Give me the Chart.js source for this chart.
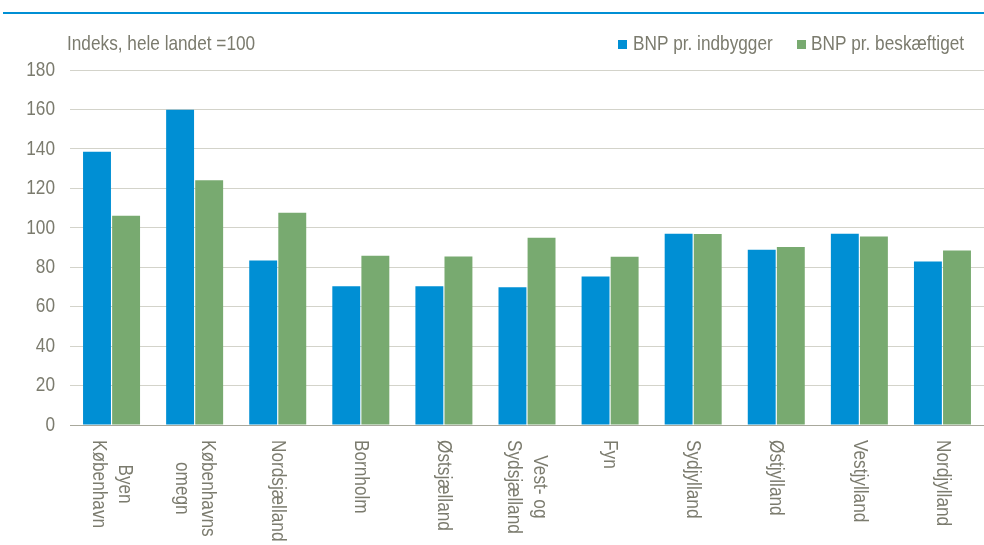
<!DOCTYPE html>
<html>
<head>
<meta charset="utf-8">
<script src="https://cdn.jsdelivr.net/npm/chart.js@4"></script>
<style>
  body { margin: 0; background: #fff; }
  canvas { display: block; }
</style>
</head>
<body>
<canvas id="bnpChart" width="984" height="545"></canvas>
<script>
const categories = [
  ["Byen", "København"],
  ["Københavns", "omegn"],
  "Nordsjælland",
  "Bornholm",
  "Østsjælland",
  ["Vest- og", "Sydsjælland"],
  "Fyn",
  "Sydjylland",
  "Østjylland",
  "Vestjylland",
  "Nordjylland"
];
const bnpPerIndbygger = [138.5, 159.8, 83.4, 70.3, 70.3, 69.8, 75.3, 97.0, 88.9, 97.0, 82.9];
const bnpPerBeskaeftiget = [106.1, 124.1, 107.6, 85.8, 85.5, 94.9, 85.3, 96.8, 90.2, 95.6, 88.5];
const seriesNames = ["BNP pr. indbygger", "BNP pr. beskæftiget"];
const yTicks = [0, 20, 40, 60, 80, 100, 120, 140, 160, 180];
const axisTitle = "Indeks, hele landet =100";

// no narrow font installed, so Liberation Sans is squeezed horizontally
const FONT = "21px 'Liberation Sans', Arial, sans-serif";
const SQUEEZE = 0.82;
const TEXT = "#7b7b6e";
const BLUE = "#008fd4";
const GREEN = "#78aa70";

function narrowText(ctx, text, x, y, align) {
  ctx.save();
  ctx.translate(x, y);
  ctx.scale(SQUEEZE, 1);
  ctx.textAlign = align;
  ctx.fillText(text, 0, 0);
  ctx.restore();
}

// title, legend, top rule, y labels and clockwise x labels
const decorations = {
  id: "decorations",
  afterDraw(chart) {
    const ctx = chart.ctx;
    ctx.save();
    ctx.fillStyle = BLUE;
    ctx.fillRect(3, 12, 981, 2);

    ctx.font = FONT;
    ctx.textBaseline = "middle";
    ctx.fillStyle = TEXT;
    narrowText(ctx, axisTitle, 67, 44, "left");

    ctx.fillStyle = BLUE;
    ctx.fillRect(618, 40, 9, 9);
    ctx.fillStyle = TEXT;
    narrowText(ctx, seriesNames[0], 633, 44, "left");
    ctx.fillStyle = GREEN;
    ctx.fillRect(797, 40, 9, 9);
    ctx.fillStyle = TEXT;
    narrowText(ctx, seriesNames[1], 811, 44, "left");

    const yScale = chart.scales.y;
    yTicks.forEach(v => {
      narrowText(ctx, String(v), chart.chartArea.left - 15, yScale.getPixelForValue(v), "right");
    });

    const xScale = chart.scales.x;
    const top = chart.chartArea.bottom + 15;
    const lh = 26;
    categories.forEach((cat, i) => {
      const lines = Array.isArray(cat) ? cat : [cat];
      const maxW = Math.max(...lines.map(l => ctx.measureText(l).width));
      ctx.save();
      ctx.translate(xScale.getPixelForTick(i), top);
      ctx.rotate(Math.PI / 2);
      ctx.scale(SQUEEZE, 1);
      ctx.textAlign = "center";
      lines.forEach((l, j) => {
        ctx.fillText(l, maxW / 2, (j - (lines.length - 1) / 2) * lh);
      });
      ctx.restore();
    });
    ctx.restore();
  }
};

new Chart(document.getElementById("bnpChart"), {
  type: "bar",
  data: {
    labels: categories,
    datasets: [
      { label: seriesNames[0], data: bnpPerIndbygger, backgroundColor: BLUE },
      { label: seriesNames[1], data: bnpPerBeskaeftiget, backgroundColor: GREEN }
    ]
  },
  options: {
    responsive: false,
    animation: false,
    layout: { padding: { top: 70, left: 0, right: 0, bottom: 0 } },
    datasets: { bar: { barPercentage: 0.96, categoryPercentage: 0.7 } },
    plugins: { legend: { display: false }, tooltip: { enabled: false } },
    scales: {
      x: {
        grid: { display: false },
        border: { color: "#a8a89c", width: 1 },
        ticks: { display: false },
        afterFit(scale) { scale.height = 120; }
      },
      y: {
        min: 0,
        max: 180,
        afterBuildTicks(scale) { scale.ticks = yTicks.map(v => ({ value: v })); },
        afterFit(scale) { scale.width = 70; },
        border: { display: false },
        grid: { color: "#d3d3ca", lineWidth: 1, drawTicks: false },
        ticks: { display: false }
      }
    }
  },
  plugins: [decorations]
});
</script>
</body>
</html>
